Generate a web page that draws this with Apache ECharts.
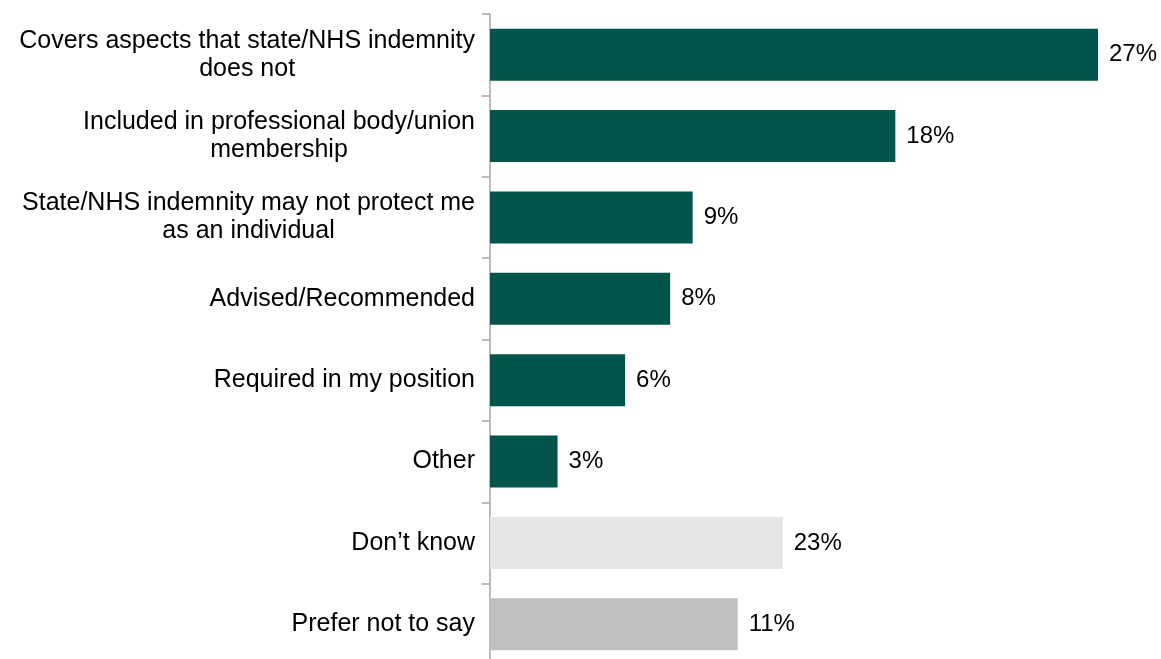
<!DOCTYPE html>
<html>
<head>
<meta charset="utf-8">
<script src="https://cdn.jsdelivr.net/npm/echarts@6/dist/echarts.min.js"></script>
<style>
  html, body { margin: 0; padding: 0; background: #ffffff; }
  #main { width: 1161px; height: 659px; }
</style>
</head>
<body>
<div id="main"></div>
<script>
// categories (top to bottom)
var categories = [
  'Covers aspects that state/NHS indemnity\ndoes not',
  'Included in professional body/union\nmembership',
  'State/NHS indemnity may not protect me\nas an individual',
  'Advised/Recommended',
  'Required in my position',
  'Other',
  'Don\u2019t know',
  'Prefer not to say'
]
// bar lengths as drawn (%)
var values = [27, 18, 9, 8, 6, 3, 13, 11]
// value labels as printed
var valueLabels = ['27%', '18%', '9%', '8%', '6%', '3%', '23%', '11%']

var barColors = ['#03544a', '#03544a', '#03544a', '#03544a', '#03544a', '#03544a', '#e6e6e6', '#bfbfbf']

var chart = echarts.init(document.getElementById('main'))
var option = {
  animation: false,
  textStyle: { fontFamily: 'Liberation Sans, Arial, sans-serif' },
  // plot runs a bit past the bottom edge, like the original
  grid: { left: 490, right: 63, top: 14, height: 651, containLabel: false, outerBoundsMode: 'none' },
  xAxis: {
    type: 'value',
    min: 0,
    max: 27,
    show: false
  },
  yAxis: {
    type: 'category',
    inverse: true,
    data: categories,
    axisLine: { show: true, lineStyle: { color: '#a6a6a6', width: 1.5 } },
    axisTick: { show: true, length: 8, lineStyle: { color: '#a6a6a6', width: 1.5 } },
    axisLabel: {
      margin: 15,
      color: '#000',
      fontSize: 25,
      lineHeight: 28,
      formatter: function(v) {
        return v.split('\n').map(function(l) { return '{c|' + l + '}' }).join('\n')
      },
      rich: {
        c: { align: 'center', fontSize: 25, lineHeight: 28, color: '#000', fontFamily: 'Liberation Sans, Arial, sans-serif' }
      }
    },
    splitLine: { show: false }
  },
  series: [
    {
      type: 'bar',
      data: values,
      barWidth: 52,
      itemStyle: {
        color: function(p) { return barColors[p.dataIndex] }
      },
      label: {
        show: true,
        position: 'right',
        distance: 11,
        color: '#000',
        fontSize: 24,
        formatter: function(p) { return valueLabels[p.dataIndex] }
      }
    }
  ]
}
chart.setOption(option)
</script>
</body>
</html>
